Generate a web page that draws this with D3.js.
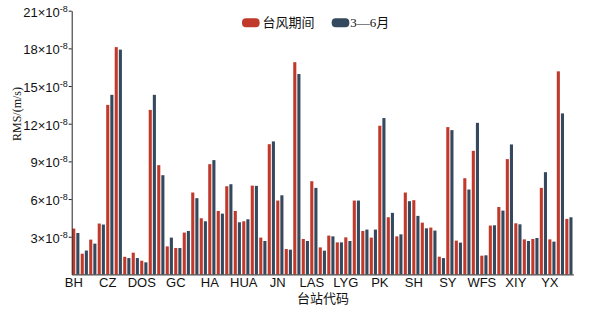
<!DOCTYPE html>
<html>
<head>
  <meta charset="utf-8">
  <title>RMS</title>
  <script src="https://d3js.org/d3.v7.min.js"></script>
  <style>
    body { margin: 0; background: #fff; }
    svg { font-family: "Liberation Serif", "Times New Roman", "Noto Sans CJK SC", serif; }
    .axis path, .axis line { stroke: #222; }
    .axis text { fill: #111; font-size: 13px; }
  </style>
</head>
<body>
  <svg width="611" height="312"></svg>
  <script>
    // 59 stations, only every 4th one is labelled on the axis
    const tickLabels = ["BH", "CZ", "DOS", "GC", "HA", "HUA", "JN", "LAS", "LYG", "PK", "SH", "SY", "WFS", "XIY", "YX"];
    const yTicks = [3, 6, 9, 12, 15, 18, 21];
    const seriesNames = ["台风期间", "3—6月"];

    // RMS values, units of 1e-8 m/s
    const typhoon = [3.65, 1.65, 2.77, 4.05, 13.5, 18.1, 1.4, 1.73, 1.09, 13.1,
                     8.7, 2.23, 2.1, 3.33, 6.52, 4.47, 8.78, 5.05, 7.02, 5.05,
                     4.23, 7.07, 2.93, 10.37, 5.88, 2.02, 16.9, 2.82, 7.42, 2.15,
                     3.09, 2.55, 2.95, 5.88, 3.46, 2.93, 11.84, 4.55, 3.03, 6.52,
                     5.91, 4.12, 3.73, 1.41, 11.73, 2.69, 7.66, 9.84, 1.49, 3.89,
                     5.37, 9.18, 4.07, 2.79, 2.82, 6.89, 2.79, 16.17, 4.42];
    const spring = [3.3, 1.9, 2.45, 3.97, 14.3, 17.9, 1.3, 1.3, 0.96, 14.3,
                    7.9, 2.93, 2.1, 3.46, 6.07, 4.23, 9.1, 4.84, 7.18, 4.15,
                    4.39, 7.05, 2.66, 10.59, 6.3, 1.97, 15.96, 2.66, 6.89, 1.89,
                    3.03, 2.55, 2.66, 5.88, 3.57, 3.57, 12.45, 4.9, 3.19, 5.83,
                    4.66, 3.67, 3.49, 1.3, 11.49, 2.53, 6.76, 12.07, 1.52, 3.91,
                    5.08, 10.35, 3.99, 2.66, 2.9, 8.14, 2.61, 12.82, 4.55];

    const colors = ["#c0392b", "#34495e"];

    const svg = d3.select("svg");
    const plotLeft = 71.7, plotRight = 573.3, plotTop = 10.7, plotBottom = 274.4;

    const x0 = d3.scaleBand()
      .domain(d3.range(typhoon.length))
      .range([plotLeft, plotRight]);

    const x1 = d3.scaleBand()
      .domain([0, 1])
      .range([0.5, x0.bandwidth() - 0.8])
      .paddingInner(0.25);

    const y = d3.scaleLinear()
      .domain([0, 21])
      .range([plotBottom, plotTop]);

    const rows = typhoon.map((v, i) => ({ i, vals: [v, spring[i]] }));

    const groups = svg.append("g").selectAll("g")
      .data(rows)
      .join("g")
      .attr("transform", d => `translate(${x0(d.i)},0)`);

    groups.selectAll("rect")
      .data(d => d.vals.map((v, k) => ({ k, v })))
      .join("rect")
      .attr("x", d => x1(d.k))
      .attr("width", x1.bandwidth())
      .attr("y", d => y(d.v))
      .attr("height", d => y(0) - y(d.v))
      .attr("fill", d => colors[d.k]);

    // x axis
    const labelShift = x1(0) + x1.bandwidth() / 2 - x0.bandwidth() / 2;
    const xAxis = svg.append("g")
      .attr("class", "axis x")
      .attr("transform", `translate(0,${plotBottom})`)
      .call(d3.axisBottom(x0)
        .tickValues(tickLabels.map((_, j) => j * 4))
        .tickFormat(i => tickLabels[i / 4])
        .tickSize(0)
        .tickPadding(3));
    xAxis.selectAll(".tick text")
      .attr("dx", labelShift);

    // y axis with superscript exponents
    const yAxis = svg.append("g")
      .attr("class", "axis y")
      .attr("transform", `translate(${plotLeft},0)`)
      .call(d3.axisLeft(y)
        .tickValues(yTicks)
        .tickSize(3)
        .tickSizeOuter(0)
        .tickPadding(1)
        .tickFormat(""));
    yAxis.selectAll(".tick text").each(function(d) {
      const t = d3.select(this).text(null).attr("dy", "0.42em");
      t.append("tspan").text(`${d}×10`);
      t.append("tspan").attr("dy", "-0.55em").attr("font-size", "9px").text("-8");
    });

    // axis titles
    svg.append("text")
      .attr("transform", `translate(20.5,114) rotate(-90)`)
      .attr("text-anchor", "middle")
      .attr("font-size", "12px")
      .attr("fill", "#111")
      .text("RMS/(m/s)");

    svg.append("text")
      .attr("x", 323)
      .attr("y", 303)
      .attr("text-anchor", "middle")
      .attr("font-size", "13px")
      .attr("fill", "#111")
      .text("台站代码");

    // legend
    const legendX = [242, 331.7];
    const legend = svg.append("g").selectAll("g")
      .data(seriesNames)
      .join("g")
      .attr("transform", (d, k) => `translate(${legendX[k]},18.3)`);
    legend.append("rect")
      .attr("width", 17.6)
      .attr("height", 9)
      .attr("rx", 4)
      .attr("fill", (d, k) => colors[k]);
    legend.append("text")
      .attr("x", (d, k) => k === 0 ? 20.5 : 18.5)
      .attr("y", 4.5)
      .attr("dy", "0.36em")
      .attr("font-size", "13px")
      .attr("fill", "#111")
      .text(d => d);
  </script>
</body>
</html>
